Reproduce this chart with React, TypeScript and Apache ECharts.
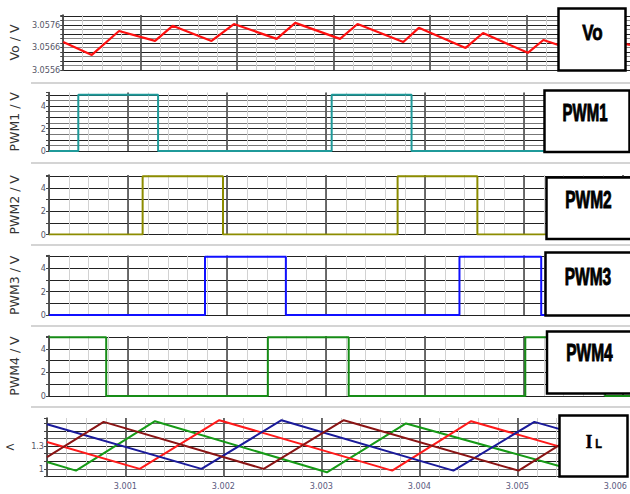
import { useEffect, useRef } from "react";
import * as echarts from "echarts";

// ---------------- data ----------------
const X_MIN = 3.0002;
const X_MAX = 3.00607;
const xTickLabels = ["3.001", "3.002", "3.003", "3.004", "3.005", "3.006"];

const voTime = [3.0002, 3.000496, 3.000778, 3.001151, 3.001333, 3.001736, 3.001968, 3.002411, 3.002603, 3.003067, 3.003248, 3.003722, 3.003883, 3.004367, 3.004548, 3.005012, 3.005173, 3.005617, 3.005819, 3.00607];
const voValue = [3.05684, 3.05627, 3.05733, 3.05689, 3.05756, 3.05689, 3.05764, 3.05698, 3.05769, 3.05698, 3.05764, 3.05684, 3.05747, 3.05658, 3.05724, 3.05636, 3.05693, 3.0563, 3.05693, 3.05671];
const voTickLabels = ["3.0556", "3.0566", "3.0576"];

const pwm1Time = [3.0002, 3.000496, 3.000496, 3.001302, 3.001302, 3.003056, 3.003056, 3.003863, 3.003863, 3.005617, 3.005617, 3.00607];
const pwm1Value = [0, 0, 5, 5, 0, 0, 5, 5, 0, 0, 5, 5];
const pwm2Time = [3.0002, 3.001146, 3.001146, 3.001958, 3.001958, 3.003722, 3.003722, 3.004528, 3.004528, 3.00607];
const pwm2Value = [0, 0, 5, 5, 0, 0, 5, 5, 0, 0];
const pwm3Time = [3.0002, 3.001776, 3.001776, 3.002593, 3.002593, 3.004347, 3.004347, 3.005173, 3.005173, 3.00607];
const pwm3Value = [0, 0, 5, 5, 0, 0, 5, 5, 0, 0];
const pwm4Time = [3.0002, 3.000778, 3.000778, 3.002411, 3.002411, 3.003228, 3.003228, 3.005012, 3.005012, 3.005819, 3.005819, 3.00607];
const pwm4Value = [5, 5, 0, 0, 5, 5, 0, 0, 5, 5, 0, 0];
const pwmTickLabels = ["0", "2", "4"];

const il1Time = [3.0002, 3.000496, 3.001302, 3.003056, 3.003863, 3.005617, 3.00607];
const il1Value = [1.09, 0.977, 1.628, 0.955, 1.598, 0.97, 1.33];
const il2Time = [3.0002, 3.001146, 3.001958, 3.003722, 3.004528, 3.00607];
const il2Value = [1.353, 1.0, 1.641, 0.977, 1.628, 1.056];
const il3Time = [3.0002, 3.001776, 3.002593, 3.004347, 3.005173, 3.00607];
const il3Value = [1.588, 1.0, 1.641, 0.977, 1.619, 1.29];
const il4Time = [3.0002, 3.000778, 3.002411, 3.003228, 3.005012, 3.005819, 3.00607];
const il4Value = [1.154, 1.619, 1.0, 1.641, 0.977, 1.63, 1.54];
const ilTickLabels = ["1", "1.3"];

// ---------------- helpers ----------------
const NARROW = "'Liberation Sans Narrow', 'DejaVu Sans Condensed', 'Liberation Sans', sans-serif";

function pairs(t: number[], v: number[]) {
  return t.map((x, i) => [x, v[i]]);
}
function labelFmt(labels: string[]) {
  return (val: number) => {
    for (const l of labels) if (Math.abs(parseFloat(l) - val) < 1e-7) return l;
    return "";
  };
}

export default function App() {
  const ref = useRef<HTMLDivElement>(null);

  useEffect(() => {
    document.body.style.margin = "0";
    if (!ref.current) return;
    const chart = echarts.init(ref.current, undefined, { renderer: "svg" });

    const panels = [
      { top: 15, height: 55, min: 3.0556, max: 3.05804, interval: 0.0002, name: "Vo / V", labels: voTickLabels, hColors: ["#222", "#888"] },
      { top: 92.5, height: 58.5, min: 0, max: 5.2, interval: 0.5, name: "PWM1 / V", labels: pwmTickLabels, hColors: ["#222", "#777"] },
      { top: 175, height: 59.5, min: 0, max: 5.1, interval: 1, name: "PWM2 / V", labels: pwmTickLabels, hColors: ["#222"] },
      { top: 255.5, height: 59.5, min: 0, max: 5.1, interval: 1, name: "PWM3 / V", labels: pwmTickLabels, hColors: ["#222"] },
      { top: 336, height: 60, min: 0, max: 5.1, interval: 1, name: "PWM4 / V", labels: pwmTickLabels, hColors: ["#222"] },
      { top: 418, height: 58.5, min: 0.9, max: 1.67, interval: 0.1, name: "<", labels: ilTickLabels, hColors: ["#222", "#666"] },
    ];

    const grid = panels.map((p) => ({ left: 47, width: 583, top: p.top, height: p.height }));

    const xAxis: any[] = [];
    panels.forEach((p, i) => {
      const last = i === panels.length - 1;
      xAxis.push({
        type: "value",
        gridIndex: i,
        min: X_MIN,
        max: X_MAX,
        interval: 0.0002,
        position: "bottom",
        axisLine: { show: false },
        axisTick: { show: false },
        axisLabel: last
          ? { show: true, formatter: labelFmt(xTickLabels), fontSize: 9, color: "#5a5a80", margin: 5, fontFamily: NARROW }
          : { show: false },
        splitLine: { show: true, lineStyle: { color: "#d2d2d2", width: 1 } },
      });
      xAxis.push({
        type: "value",
        gridIndex: i,
        min: X_MIN,
        max: X_MAX,
        interval: 0.0002,
        position: "bottom",
        axisLine: { show: false },
        axisTick: { show: false },
        axisLabel: { show: false },
        splitLine: {
          show: true,
          lineStyle: { color: ["rgba(0,0,0,0)", "rgba(0,0,0,0)", "rgba(0,0,0,0)", "rgba(0,0,0,0)", "#4a4a4a"], width: 1.6 },
        },
      });
    });

    const yAxis = panels.map((p, i) => ({
      type: "value",
      gridIndex: i,
      min: p.min,
      max: p.max,
      interval: p.interval,
      axisLine: { show: true, onZero: false, lineStyle: { color: "#222", width: 1.5 } },
      axisTick: { show: true, length: 3, lineStyle: { color: "#444" } },
      axisLabel: { formatter: labelFmt(p.labels), fontSize: 9, color: "#555566", margin: 3, fontFamily: NARROW },
      splitLine: { show: true, showMaxLine: false, lineStyle: { color: p.hColors, width: 1 } },
      name: p.name,
      nameLocation: "middle",
      nameGap: i === 5 ? 32 : 28,
      nameRotate: i === 5 ? 0 : 90,
      nameTextStyle: { fontSize: i === 5 ? 12 : 12.5, color: "#333", fontFamily: "'DejaVu Sans', sans-serif" },
    }));

    const line = (data: number[][], idx: number, color: string, width = 2) => ({
      type: "line",
      data,
      xAxisIndex: idx * 2,
      yAxisIndex: idx,
      showSymbol: false,
      symbol: "none",
      lineStyle: { color, width },
      z: 5,
    });

    const series = [
      line(pairs(voTime, voValue), 0, "#ff1010", 2.2),
      line(pairs(pwm1Time, pwm1Value), 1, "#1f9a9a"),
      line(pairs(pwm2Time, pwm2Value), 2, "#8c8c00"),
      line(pairs(pwm3Time, pwm3Value), 3, "#1010ff"),
      line(pairs(pwm4Time, pwm4Value), 4, "#168c16"),
      line(pairs(il1Time, il1Value), 5, "#169a16"),
      line(pairs(il2Time, il2Value), 5, "#ff1a1a"),
      line(pairs(il3Time, il3Value), 5, "#1a1a9a"),
      line(pairs(il4Time, il4Value), 5, "#8a1414"),
    ];

    const sepYs = [83, 163, 245, 326, 407];
    const boxStyle = { fill: "#fff", stroke: "#000", lineWidth: 2.5 };
    const boxes = [
      { x: 558.5, y: 8.5, w: 67, h: 62 },
      { x: 544.5, y: 90.5, w: 85, h: 61.5 },
      { x: 546.5, y: 177.5, w: 86, h: 61.5 },
      { x: 545.5, y: 252.5, w: 87, h: 63 },
      { x: 547, y: 331.5, w: 86, h: 62 },
      { x: 559.5, y: 415.5, w: 68, h: 61 },
    ];
    const boxTexts = [
      { text: "Vo", x: 592.5, y: 32.5, size: 17, sy: 1.25 },
      { text: "PWM1", x: 585, y: 113, size: 15, sy: 1.55 },
      { text: "PWM2", x: 588.5, y: 200, size: 15.5, sy: 1.5 },
      { text: "PWM3", x: 588, y: 276.5, size: 15.5, sy: 1.5 },
      { text: "PWM4", x: 589.5, y: 353, size: 15.5, sy: 1.5 },
    ];

    const graphic: any[] = [
      ...sepYs.map((y) => ({
        type: "line",
        shape: { x1: 31, y1: y, x2: 630, y2: y },
        style: { stroke: "#d4d4d4", lineWidth: 2 },
        z: 50,
      })),
      ...boxes.map((b) => ({
        type: "rect",
        shape: { x: b.x, y: b.y, width: b.w, height: b.h },
        style: boxStyle,
        z: 100,
      })),
      ...boxTexts.map((t) => ({
        type: "text",
        x: t.x,
        y: t.y,
        scaleY: t.sy,
        style: {
          text: t.text,
          fill: "#000",
          stroke: "#000",
          lineWidth: 0.6,
          fontSize: t.size,
          fontWeight: "bold",
          fontFamily: "'Liberation Sans', Arial, sans-serif",
          align: "center",
          verticalAlign: "middle",
        },
        z: 101,
      })),
      {
        type: "text",
        x: 589,
        y: 441.5,
        scaleY: 1.2,
        style: { text: "I", fill: "#000", stroke: "#000", lineWidth: 0.5, fontSize: 16.5, fontWeight: "bold", fontFamily: "'Liberation Serif', serif", align: "center", verticalAlign: "middle" },
        z: 101,
      },
      {
        type: "text",
        x: 598.5,
        y: 444,
        scaleY: 1.1,
        style: { text: "L", fill: "#000", stroke: "#000", lineWidth: 0.4, fontSize: 11, fontWeight: "bold", fontFamily: "'Liberation Sans', sans-serif", align: "center", verticalAlign: "middle" },
        z: 101,
      },
    ];

    chart.setOption({
      animation: false,
      backgroundColor: "#fff",
      grid,
      xAxis,
      yAxis,
      series,
      graphic,
    });

    return () => chart.dispose();
  }, []);

  return <div ref={ref} style={{ position: "absolute", left: 0, top: 0, width: 630, height: 494 }} />;
}
